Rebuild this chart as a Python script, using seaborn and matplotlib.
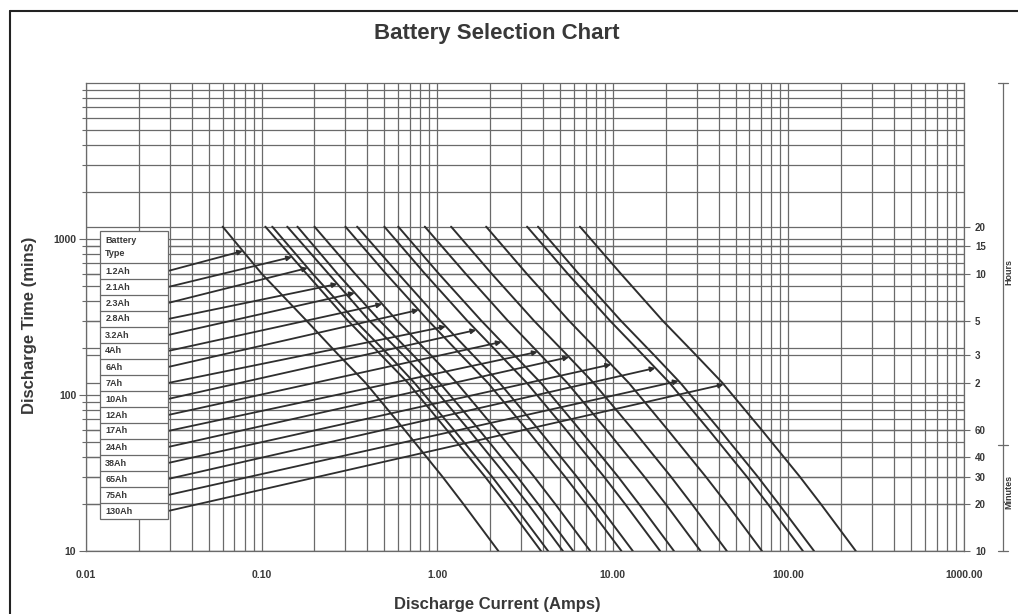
import numpy as np
import pandas as pd
import matplotlib
matplotlib.use("Agg")
import matplotlib.pyplot as plt
from matplotlib.lines import Line2D
from matplotlib.patches import Rectangle
from matplotlib.ticker import LogLocator, NullFormatter, FixedLocator
import seaborn as sns

# ---------------- DATA ----------------
battery_types = ["1.2Ah", "2.1Ah", "2.3Ah", "2.8Ah", "3.2Ah", "4Ah", "6Ah", "7Ah",
                 "10Ah", "12Ah", "17Ah", "24Ah", "38Ah", "65Ah", "75Ah", "130Ah"]

# discharge time points (mins) where currents were read
minutes = [1200, 600, 300, 180, 120, 60, 30, 20, 10]

# discharge current (Amps) for each battery at the times above
amps = [
    [0.06, 0.10, 0.18, 0.275, 0.39, 0.65, 1.07, 1.41, 2.23],
    [0.105, 0.18, 0.31, 0.48, 0.68, 1.13, 1.87, 2.47, 3.9],
    [0.115, 0.195, 0.34, 0.53, 0.74, 1.24, 2.05, 2.7, 4.28],
    [0.14, 0.24, 0.41, 0.64, 0.9, 1.51, 2.49, 3.29, 5.2],
    [0.16, 0.27, 0.47, 0.73, 1.03, 1.73, 2.85, 3.76, 5.95],
    [0.2, 0.34, 0.59, 0.92, 1.29, 2.16, 3.56, 4.7, 7.44],
    [0.3, 0.51, 0.89, 1.37, 1.94, 3.24, 5.34, 7.05, 11.2],
    [0.35, 0.6, 1.04, 1.6, 2.26, 3.78, 6.23, 8.2, 13.0],
    [0.5, 0.85, 1.48, 2.29, 3.23, 5.4, 8.9, 11.75, 18.6],
    [0.6, 1.02, 1.78, 2.75, 3.88, 6.48, 10.7, 14.1, 22.3],
    [0.85, 1.45, 2.52, 3.89, 5.49, 9.18, 15.1, 20.0, 31.6],
    [1.2, 2.04, 3.55, 5.5, 7.75, 13.0, 21.4, 28.2, 44.6],
    [1.9, 3.23, 5.62, 8.7, 12.3, 20.5, 33.8, 44.7, 70.7],
    [3.25, 5.53, 9.62, 14.9, 21.0, 35.1, 57.9, 76.4, 121],
    [3.75, 6.38, 11.1, 17.2, 24.2, 40.5, 66.8, 88.1, 140],
    [6.5, 11.1, 19.2, 29.8, 42.0, 70.2, 116, 153, 242],
]

# time (mins) where each leader arrow touches its curve
tip_minutes = [838, 767, 652, 515, 451, 383, 351, 275, 261, 219, 189, 175, 157, 149, 123, 117]

x_ticks = [0.01, 0.1, 1, 10, 100, 1000]
x_tick_labels = ["0.01", "0.10", "1.00", "10.00", "100.00", "1000.00"]
left_ticks = [10, 100, 1000]
left_tick_labels = ["10", "100", "1000"]
right_ticks = [1200, 900, 600, 300, 180, 120, 60, 40, 30, 20, 10]
right_tick_labels = ["20", "15", "10", "5", "3", "2", "60", "40", "30", "20", "10"]

# ---------------- STYLE ----------------
sns.set_theme(style="white")
plt.rcParams['font.family'] = ['Liberation Sans', 'DejaVu Sans']
txt = '#383838'
grid_c = '#6a6a6a'
curve_c = '#2e2e2e'

W, H = 1018, 614
fig = plt.figure(figsize=(W / 100, H / 100), dpi=100)
L, R, T, B = 86, 964, 83, 551
ax = fig.add_axes([L / W, 1 - B / H, (R - L) / W, (B - T) / H])

# long form table for seaborn
rows = []
for name, vals in zip(battery_types, amps):
    for t, a in zip(minutes, vals):
        rows.append({'battery': name, 'amps': a, 'minutes': t})
df = pd.DataFrame(rows)

ax.set_xscale('log')
ax.set_yscale('log')
ax.set_xlim(0.01, 1000)
ax.set_ylim(10, 10000)

# grid
ax.xaxis.set_minor_locator(LogLocator(base=10, subs=np.arange(2, 10)))
ax.yaxis.set_minor_locator(LogLocator(base=10, subs=np.arange(2, 10)))
ax.grid(which='both', color=grid_c, lw=0.9, zorder=0)
for t in right_ticks:
    ax.axhline(t, color=grid_c, lw=0.9, zorder=0)

sns.lineplot(data=df, x='amps', y='minutes', units='battery', estimator=None,
             sort=False, color=curve_c, lw=1.4, ax=ax, zorder=3)

ax.set_xlabel('')
ax.set_ylabel('')
ax.set_xticks(x_ticks)
ax.set_xticklabels(x_tick_labels)
ax.xaxis.set_minor_formatter(NullFormatter())
ax.set_yticks(left_ticks)
ax.set_yticklabels(left_tick_labels)
ax.yaxis.set_minor_formatter(NullFormatter())
ax.tick_params(axis='x', which='both', length=0, pad=14, labelsize=7.5, labelcolor=txt)
ax.tick_params(axis='y', which='major', direction='out', length=5, width=0.8, color=grid_c,
               pad=2, labelsize=7.5, labelcolor=txt, left=True)
ax.tick_params(axis='y', which='minor', direction='out', length=3, width=0.8, color=grid_c, left=True)
for lab in ax.get_xticklabels() + ax.get_yticklabels():
    lab.set_fontweight('bold')
for s in ax.spines.values():
    s.set_color(grid_c)
    s.set_linewidth(0.9)

# right axis: hours / minutes
ax2 = ax.twinx()
ax2.set_yscale('log')
ax2.set_ylim(10, 10000)
ax2.yaxis.set_major_locator(FixedLocator(right_ticks))
ax2.set_yticklabels(right_tick_labels)
ax2.yaxis.set_minor_locator(FixedLocator([]))
ax2.tick_params(axis='y', direction='out', length=4, width=0.8, color=grid_c,
                pad=4, labelsize=7, labelcolor=txt)
for lab in ax2.get_yticklabels():
    lab.set_fontweight('bold')
for s in ax2.spines.values():
    s.set_visible(False)
ax2.grid(False)

bx = (1003 - L) / (R - L)
mid = (B - 445) / (B - T)
ax.add_line(Line2D([bx, bx], [0, 1], transform=ax.transAxes, color=grid_c, lw=0.9, clip_on=False))
for yy in [0, mid, 1]:
    ax.add_line(Line2D([bx - 0.006, bx + 0.006], [yy, yy], transform=ax.transAxes,
                       color=grid_c, lw=0.9, clip_on=False))
tx = (1009 - L) / (R - L)
ax.text(tx, (B - 272) / (B - T), 'Hours', transform=ax.transAxes, rotation=90,
        ha='center', va='center', fontsize=6.5, fontweight='bold', color=txt)
ax.text(tx, (B - 492) / (B - T), 'Minutes', transform=ax.transAxes, rotation=90,
        ha='center', va='center', fontsize=6.5, fontweight='bold', color=txt)

# battery type table
bl = (100 - L) / (R - L)
br = (168 - L) / (R - L)
btop = (B - 231) / (B - T)
head_h = 32 / (B - T)
row_h = 16 / (B - T)
n = len(battery_types)
ax.add_patch(Rectangle((bl, btop - head_h - n * row_h), br - bl, head_h + n * row_h,
                       transform=ax.transAxes, facecolor='white', edgecolor=grid_c,
                       lw=0.9, zorder=5, clip_on=False))
ax.text(bl + 0.006, btop - head_h / 2, 'Battery\nType', transform=ax.transAxes,
        ha='left', va='center', fontsize=6.5, fontweight='bold', color=txt,
        linespacing=1.5, zorder=6)
for i, name in enumerate(battery_types):
    ytop = btop - head_h - i * row_h
    ax.add_line(Line2D([bl, br], [ytop, ytop], transform=ax.transAxes, color=grid_c,
                       lw=0.9, zorder=6))
    ax.text(bl + 0.006, ytop - row_h / 2, name, transform=ax.transAxes, ha='left',
            va='center', fontsize=6.5, fontweight='bold', color=txt, zorder=6)

# leader arrows from table rows to curves
lt = np.log10(minutes[::-1])
for i, (vals, tm) in enumerate(zip(amps, tip_minutes)):
    la = np.log10(vals[::-1])
    tip_a = 10 ** np.interp(np.log10(tm), lt, la)
    ystart = btop - head_h - i * row_h - row_h / 2
    ax.annotate('', xy=(tip_a, tm), xycoords='data', xytext=(br, ystart),
                textcoords='axes fraction',
                arrowprops=dict(arrowstyle='-|>', color=curve_c, lw=1.3,
                                mutation_scale=7, shrinkA=0, shrinkB=0), zorder=4)

# titles
fig.text(497 / W, 1 - 33 / H, 'Battery Selection Chart', ha='center', va='center',
         fontsize=16, fontweight='bold', color=txt)
fig.text(497 / W, 1 - 604 / H, 'Discharge Current (Amps)', ha='center', va='center',
         fontsize=12, fontweight='bold', color=txt)
fig.text(30 / W, 1 - 325 / H, 'Discharge Time (mins)', ha='center', va='center',
         rotation=90, fontsize=12, fontweight='bold', color=txt)

# outer frame (top and left only visible)
fig.add_artist(Line2D([10 / W, 10 / W], [0, 1 - 11 / H], transform=fig.transFigure,
                      color='#222222', lw=1.5))
fig.add_artist(Line2D([10 / W, 1], [1 - 11 / H, 1 - 11 / H], transform=fig.transFigure,
                      color='#222222', lw=1.5))

fig.savefig('out.png', dpi=100)
